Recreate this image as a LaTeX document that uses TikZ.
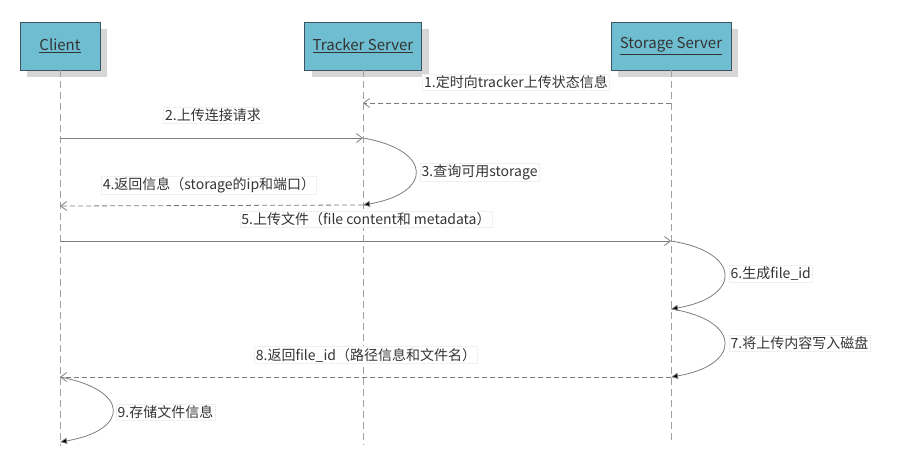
\documentclass[tikz,border=0pt]{standalone}
\usepackage{fontspec}
\setmainfont{Noto Sans CJK SC}
\usetikzlibrary{arrows.meta,calc,shadows}
\definecolor{ink}{RGB}{52,52,52}
\definecolor{lifebox}{RGB}{110,189,208}
\definecolor{boxframe}{RGB}{62,84,96}
\definecolor{lifegray}{RGB}{160,160,160}
\definecolor{msggray}{RGB}{125,125,125}
\definecolor{shade}{RGB}{214,214,214}
\definecolor{tagframe}{RGB}{240,240,240}
\tikzset{
  actor/.style={draw=boxframe, fill=lifebox, minimum height=48pt, inner sep=4pt,
    font=\fontsize{15}{17}\selectfont, text=ink, line width=0.8pt,
    drop shadow={shadow xshift=7pt, shadow yshift=-7pt, fill=shade, opacity=1}},
  life/.style={draw=lifegray, dash pattern=on 7pt off 4pt, line width=0.9pt},
  call/.style={draw=msggray, line width=0.8pt, -{Straight Barb[length=6pt,width=9pt]}},
  reply/.style={call, dash pattern=on 5pt off 3pt},
  self/.style={draw=msggray, line width=0.8pt, -{Triangle[length=7pt,width=6pt,fill=black]}},
  tag/.style={fill=white, draw=tagframe, inner sep=1.5pt, font=\fontsize{14}{16}\selectfont,
    text=ink},
}

\begin{document}
\begin{tikzpicture}[x=1pt, y=-1pt]
  \useasboundingbox (0,0) rectangle (918,461);
  % the three parties
  \node[actor, minimum width=80pt] (client) at (60,46) {\underline{Client}};
  \node[actor, minimum width=117pt] (tracker) at (363,46) {\underline{Tracker Server}};
  \node[actor, minimum width=120pt] (storage) at (671,46) {\underline{Storage Server}};

  % lifelines
  \coordinate (cl-end) at (client |- 0,446);
  \coordinate (tr-end) at (tracker |- 0,445);
  \coordinate (st-end) at (storage |- 0,443);
  \draw[life] (client.south) -- (cl-end);
  \draw[life] (tracker.south) -- (tr-end);
  \draw[life] (storage.south) -- (st-end);

  % points on the lifelines
  \foreach \n/\y in {2/138,4/206,5/241,8/377,9/442}
    \coordinate (cl\n) at (client |- 0,\y);
  \foreach \n/\y in {1/103,2/138,3/205}
    \coordinate (tr\n) at (tracker |- 0,\y);
  \foreach \n/\y in {1/103,5/241,6/309,7/377}
    \coordinate (st\n) at (storage |- 0,\y);

  % messages
  \draw[reply] (st1) -- (tr1);
  \node[tag] (m1) at (516,82) {1.定时向tracker上传状态信息};
  \draw[call] (cl2) -- (tr2);
  \node[tag] (m2) at (213,115) {2.上传连接请求};
  \draw[self] (tr2) .. controls (433,150) and (433,193) .. (tr3);
  \node[tag, anchor=west] (m3) at (420,172) {3.查询可用storage};
  \draw[reply] (tr3) -- (cl4);
  \node[tag] (m4) at (209,185) {4.返回信息（storage的ip和端口）};
  \draw[call] (cl5) -- (st5);
  \node[tag] (m5) at (366,219) {5.上传文件（file content和 metadata）};
  \draw[self] (st5) .. controls (742,252) and (742,297) .. (st6);
  \node[tag, anchor=west] (m6) at (729,274) {6.生成file\_id};
  \draw[self] (st6) .. controls (742,320) and (742,365) .. (st7);
  \node[tag, anchor=west] (m7) at (729,343) {7.将上传内容写入磁盘};
  \draw[reply] (st7) -- (cl8);
  \node[tag] (m8) at (366,355) {8.返回file\_id（路径信息和文件名）};
  \draw[self] (cl8) .. controls (130,390) and (130,430) .. (cl9);
  \node[tag, anchor=west] (m9) at (116,412) {9.存储文件信息};
\end{tikzpicture}
\end{document}
